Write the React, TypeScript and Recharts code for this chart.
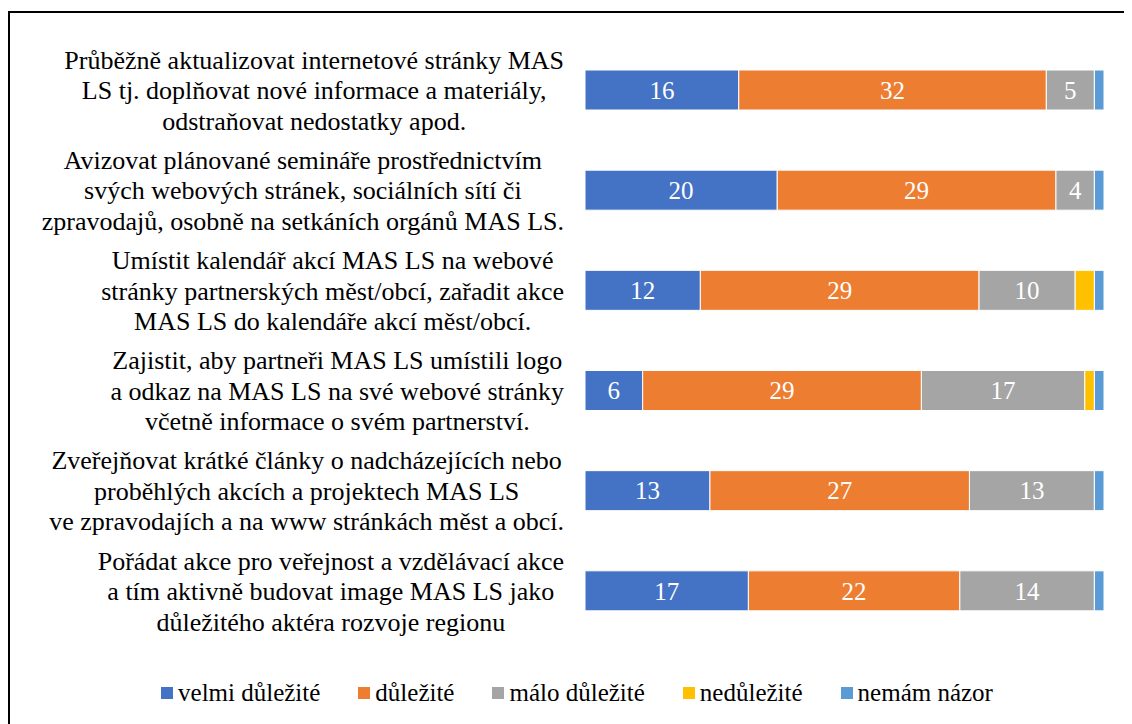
import React, { useLayoutEffect, useRef, useState } from 'react';
import { BarChart, Bar, XAxis, YAxis, Legend, LabelList } from 'recharts';

const categories = [
  'Průběžně aktualizovat internetové stránky MAS\nLS tj. doplňovat nové informace a materiály,\nodstraňovat nedostatky apod.',
  'Avizovat plánované semináře prostřednictvím\nsvých webových stránek, sociálních sítí či\nzpravodajů, osobně na setkáních orgánů MAS LS.',
  'Umístit kalendář akcí MAS LS na webové\nstránky partnerských měst/obcí, zařadit akce\nMAS LS do kalendáře akcí měst/obcí.',
  'Zajistit, aby partneři MAS LS umístili logo\na odkaz na MAS LS na své webové stránky\nvčetně informace o svém partnerství.',
  'Zveřejňovat krátké články o nadcházejících nebo\nproběhlých akcích a projektech MAS LS\nve zpravodajích a na www stránkách měst a obcí.',
  'Pořádat akce pro veřejnost a vzdělávací akce\na tím aktivně budovat image MAS LS jako\ndůležitého aktéra rozvoje regionu',
];

const velmiDulezite = [16, 20, 12, 6, 13, 17];
const dulezite = [32, 29, 29, 29, 27, 22];
const maloDulezite = [5, 4, 10, 17, 13, 14];
const nedulezite = [0, 0, 2, 1, 0, 0];
const nemamNazor = [1, 1, 1, 1, 1, 1];

const seriesNames = ['velmi důležité', 'důležité', 'málo důležité', 'nedůležité', 'nemám názor'];
const seriesColors = ['#4472C4', '#ED7D31', '#A5A5A5', '#FFC000', '#5B9BD5'];

const data = categories.map((name, i) => ({
  name,
  s0: velmiDulezite[i],
  s1: dulezite[i],
  s2: maloDulezite[i],
  s3: nedulezite[i],
  s4: nemamNazor[i],
}));

const FONT = '"Liberation Serif", serif';
const FS = 25;

// vynutit patkové písmo i proti cizím stylům
const serif = (el: HTMLElement | SVGElement | null) => {
  if (el) el.style.setProperty('font-family', FONT, 'important');
};

// popisek kategorie: blok centrovaného textu zarovnaný doprava
function CategoryTick(props: any) {
  const { y, payload } = props;
  const ref = useRef<SVGTextElement | null>(null);
  const [w, setW] = useState(480);
  useLayoutEffect(() => {
    if (ref.current) {
      serif(ref.current);
      const bw = ref.current.getBBox().width;
      if (Math.abs(bw - w) > 0.5) setW(bw);
    }
  });
  const lines: string[] = String(payload.value).split('\n');
  const cx = 556 - w / 2;
  const lh = 30.5;
  const top = y - ((lines.length - 1) * lh) / 2;
  return (
    <text ref={ref} x={cx} textAnchor="middle" fontSize={26} fill="#000">
      {lines.map((l, i) => (
        <tspan key={i} x={cx} y={top + i * lh} dy="0.35em">{l}</tspan>
      ))}
    </text>
  );
}

function ValueLabel(props: any) {
  const { x, y, width, height, value } = props;
  if (!value) return null;
  return (
    <text ref={serif} x={x + width / 2} y={y + height / 2} dy="0.35em" textAnchor="middle" fontSize={FS} fill="#fff">
      {value}
    </text>
  );
}

function LegendContent() {
  return (
    <div ref={serif} style={{ display: 'flex', justifyContent: 'center', gap: 38, fontSize: FS, paddingLeft: 14, color: '#000' }}>
      {seriesNames.map((n, i) => (
        <div key={n} ref={serif} style={{ display: 'flex', alignItems: 'center' }}>
          <span style={{ width: 12, height: 12, background: seriesColors[i], marginRight: 5, display: 'inline-block' }} />
          <span ref={serif}>{n}</span>
        </div>
      ))}
    </div>
  );
}

export default function App() {
  const keys = ['s0', 's1', 's2', 's3', 's4'];
  return (
    <div style={{ position: 'relative', width: 1124, height: 716, overflow: 'hidden', fontFamily: FONT }}>
      <div style={{ position: 'absolute', left: 0, top: 3, width: 1200, height: 800, border: '2px solid #000', boxSizing: 'border-box' }} />
      <BarChart
        width={1124}
        height={716}
        data={data}
        layout="vertical"
        barSize={40}
        margin={{ top: 32, right: 28, left: 0, bottom: 55 }}
        style={{ position: 'absolute', left: 0, top: 0 }}
      >
        <XAxis type="number" domain={[0, 54]} hide />
        <YAxis type="category" dataKey="name" width={577} axisLine={false} tickLine={false} tick={<CategoryTick />} interval={0} />
        {keys.map((k, i) => (
          <Bar key={k} dataKey={k} name={seriesNames[i]} stackId="a" fill={seriesColors[i]} stroke="#fff" strokeWidth={1} isAnimationActive={false}>
            {i < 3 && <LabelList dataKey={k} content={<ValueLabel />} />}
          </Bar>
        ))}
        <Legend content={<LegendContent />} verticalAlign="bottom" wrapperStyle={{ top: 671, bottom: 'auto', left: 0, width: 1124 }} />
      </BarChart>
    </div>
  );
}
